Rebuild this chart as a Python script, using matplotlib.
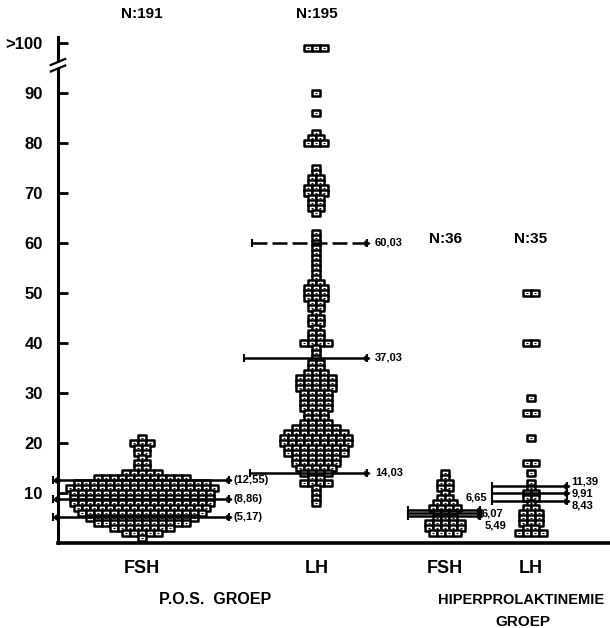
import matplotlib.pyplot as plt
import numpy as np
from matplotlib.path import Path

plt.rcParams['font.family'] = ['Liberation Sans', 'DejaVu Sans']
plt.rcParams['font.weight'] = 'bold'

# dot rows: value level and number of squares on that level
POS_FSH_LEVELS = [21, 20, 19, 18, 17, 16, 15, 14, 13, 12, 11, 10, 9, 8, 7, 6, 5, 4, 3, 2, 1]
POS_FSH_COUNTS = [1, 3, 2, 2, 1, 2, 2, 5, 12, 17, 19, 18, 18, 18, 17, 16, 14, 12, 8, 5, 1]

POS_LH_LEVELS = [99, 90, 86, 82, 81, 80,
                 75, 74, 73, 72, 71, 70, 69, 68, 67, 66,
                 62, 61, 60, 59, 58, 57, 56, 55, 54, 53,
                 52, 51, 50, 49, 48, 47, 46, 45, 44, 43, 42, 41, 40, 39, 38, 37, 36,
                 35, 34, 33, 32, 31, 30, 29, 28, 27, 26, 25, 24, 23, 22, 21, 20,
                 19, 18, 17, 16, 15, 14, 13, 12, 11, 10, 9, 8]
POS_LH_COUNTS = [3, 1, 1, 1, 2, 3,
                 1, 1, 2, 2, 3, 3, 2, 2, 2, 1,
                 1, 1, 1, 1, 1, 1, 1, 1, 1, 1,
                 2, 3, 3, 3, 2, 2, 1, 2, 2, 1, 2, 2, 4, 1, 1, 1, 2,
                 2, 3, 5, 5, 5, 4, 4, 4, 4, 3, 3, 4, 6, 8, 9, 9,
                 8, 8, 6, 6, 5, 4, 2, 4, 1, 1, 1, 1]

HYP_FSH_LEVELS = [14, 13, 12, 11, 10, 9, 8, 7, 6, 5, 4, 3, 2]
HYP_FSH_COUNTS = [1, 1, 2, 2, 1, 2, 3, 4, 3, 3, 5, 5, 4]

HYP_LH_LEVELS = [50, 40, 29, 26, 21, 16, 14, 12, 11, 10, 9, 8, 7, 6, 5, 4, 3, 2]
HYP_LH_COUNTS = [2, 2, 1, 2, 1, 2, 1, 1, 1, 2, 2, 1, 2, 3, 3, 3, 2, 4]

N_LABELS = ["N:191", "N:195", "N:36", "N:35"]
HORMONES = ["FSH", "LH", "FSH", "LH"]

# summary lines per group
POS_FSH_LINES = [12.55, 8.86, 5.17]
POS_FSH_TEXT = ["(12,55)", "(8,86)", "(5,17)"]
POS_LH_LINES = [60.03, 37.03, 14.03]
POS_LH_TEXT = ["60,03", "37,03", "14,03"]
HYP_FSH_LINES = [6.65, 6.07, 5.49]
HYP_FSH_TEXT = ["6,65", "6,07", "5,49"]
HYP_LH_LINES = [11.39, 9.91, 8.43]
HYP_LH_TEXT = ["11,39", "9,91", "8,43"]

CENTERS = [10.5, 32.3, 48.4, 59.1]

fig = plt.figure(figsize=(6.1, 6.28), dpi=100)
ax = fig.add_axes([58 / 610, 1 - 543 / 628, 552 / 610, 508 / 628])
ax.set_xlim(0, 69)
ax.set_ylim(0, 101.6)

box = Path([(-1, -0.7), (1, -0.7), (1, 0.7), (-1, 0.7), (-1, -0.7)],
           [Path.MOVETO, Path.LINETO, Path.LINETO, Path.LINETO, Path.CLOSEPOLY])


def dots(center, levels, counts):
    xs, ys = [], []
    for lv, n in zip(levels, counts):
        for i in range(n):
            xs.append(center + (i - (n - 1) / 2) * 1.0)
            ys.append(lv)
    ax.scatter(xs, ys, marker=box, s=27, facecolor="white",
               edgecolor="black", linewidth=1.8, zorder=3)
    ax.scatter(xs, ys, marker="_", s=4, color="black", linewidth=0.8, zorder=3)


dots(CENTERS[0], POS_FSH_LEVELS, POS_FSH_COUNTS)
dots(CENTERS[1], POS_LH_LEVELS, POS_LH_COUNTS)
dots(CENTERS[2], HYP_FSH_LEVELS, HYP_FSH_COUNTS)
dots(CENTERS[3], HYP_LH_LEVELS, HYP_LH_COUNTS)


def hline(y, x0, x1, ls="-"):
    ax.plot([x0, x1], [y, y], color="black", lw=1.8, ls=ls, zorder=4, clip_on=False)
    ax.plot([x0, x1], [y, y], ls="none", marker="|", ms=6, mew=1.5,
            color="black", zorder=4, clip_on=False)
    ax.plot([x1], [y], ls="none", marker=">", ms=3.5, color="black",
            zorder=4, clip_on=False)


for v, t in zip(POS_FSH_LINES, POS_FSH_TEXT):
    hline(v, -0.6, 21.4)
    ax.plot([-0.1], [v], "o", ms=3.5, color="black", clip_on=False, zorder=5)
    ax.text(21.9, v, t, fontsize=8, va="center", ha="left")

for v, t, x0, ls in zip(POS_LH_LINES, POS_LH_TEXT, [24.3, 23.2, 24.0],
                        [(0, (6, 2)), "-", "-"]):
    hline(v, x0, 38.6, ls)
    ax.text(39.6, v, t, fontsize=8, va="center", ha="left")

for v in HYP_FSH_LINES:
    hline(v, 43.7, 52.7)
for t, (x, y) in zip(HYP_FSH_TEXT, [(51.0, 9.0), (53.0, 6.0), (53.3, 3.4)]):
    ax.text(x, y, t, fontsize=8, va="center", ha="left")

for v in HYP_LH_LINES:
    hline(v, 54.3, 63.6)
for t, y in zip(HYP_LH_TEXT, [12.2, 9.8, 7.4]):
    ax.text(64.2, y, t, fontsize=8, va="center", ha="left")

# N counts above each group
for x, y, t in zip(CENTERS, [105.8, 105.8, 60.8, 60.8], N_LABELS):
    ax.text(x, y, t, fontsize=11, ha="center", va="center", clip_on=False)

# axes styling
for s in ["top", "right"]:
    ax.spines[s].set_visible(False)
ax.spines["left"].set_linewidth(2.2)
ax.spines["left"].set_bounds(0, 101.2)
ax.spines["bottom"].set_linewidth(2.6)

ax.set_yticks([10, 20, 30, 40, 50, 60, 70, 80, 90, 100])
ax.set_yticklabels(["10", "20", "30", "40", "50", "60", "70", "80", "90", ">100"])
ax.tick_params(axis="y", direction="in", length=7, width=2, pad=11, labelsize=12)
ax.set_xticks(CENTERS)
ax.set_xticklabels(HORMONES)
ax.tick_params(axis="x", length=0, pad=12, labelsize=13)

# axis break near the top
ax.plot([-0.9, 0.9], [95.6, 95.6], color="white", lw=4, clip_on=False, zorder=6)
for dy in (0, 1.3):
    ax.plot([-0.9, 0.9], [94.3 + dy, 95.5 + dy], color="black", lw=1.6,
            clip_on=False, zorder=7)

ax.text(19.6, -11.4, "P.O.S.  GROEP", fontsize=11.5, ha="center", va="center", clip_on=False)
ax.text(57.9, -11.4, "HIPERPROLAKTINEMIE", fontsize=10.5, ha="center", va="center", clip_on=False)
ax.text(58.1, -15.8, "GROEP", fontsize=11, ha="center", va="center", clip_on=False)

fig.savefig("out.png", dpi=100)
